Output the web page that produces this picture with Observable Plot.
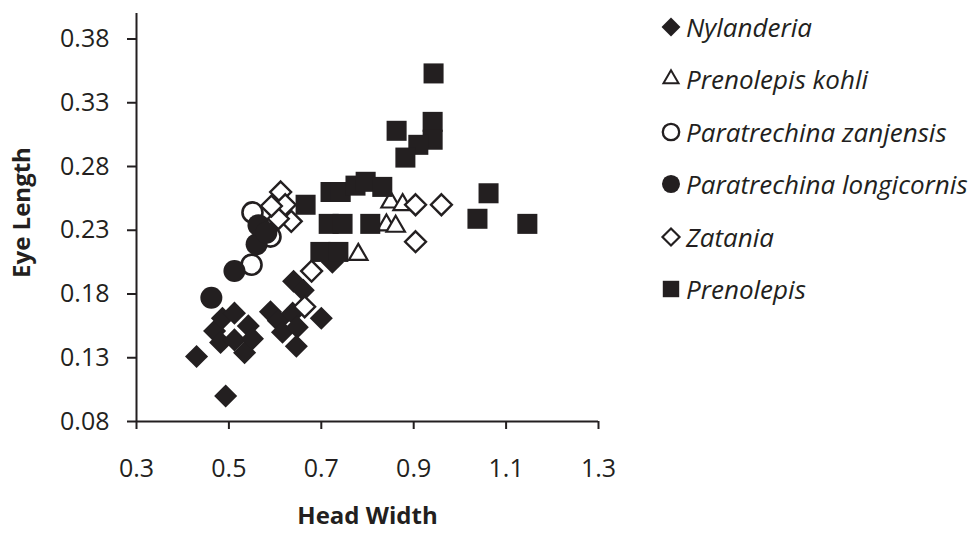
<!DOCTYPE html>
<html><head><meta charset="utf-8">
<script src="https://cdn.jsdelivr.net/npm/d3@7"></script>
<script src="https://cdn.jsdelivr.net/npm/@observablehq/plot@0.6"></script>
<style>
body{margin:0;background:#fff;}
#wrap{position:relative;width:973px;height:534px;overflow:hidden;}
#chart{position:absolute;left:0;top:0;}
#legend{position:absolute;left:0;top:0;font-family:"Open Sans", sans-serif;font-style:italic;font-size:26px;color:#231f20;}
.item{position:absolute;left:658px;height:36px;display:flex;align-items:center;white-space:nowrap;}
.item svg{display:block;margin-right:2px;}
</style></head><body><div id="wrap"><div id="chart"></div><div id="legend"></div></div>
<script>
const ink = "#231f20";
const seriesNames = ["Nylanderia", "Prenolepis kohli", "Paratrechina zanjensis", "Paratrechina longicornis", "Zatania", "Prenolepis"];
const xTicks = [0.3, 0.5, 0.7, 0.9, 1.1, 1.3];
const yTicks = [0.08, 0.13, 0.18, 0.23, 0.28, 0.33, 0.38];

const nylanderiaHW = [0.430,0.493,0.469,0.486,0.512,0.542,0.482,0.512,0.534,0.551,0.640,0.661,0.590,0.607,0.638,0.616,0.648,0.646,0.700,0.724];
const nylanderiaEL = [0.131,0.100,0.151,0.161,0.165,0.155,0.142,0.144,0.134,0.145,0.190,0.183,0.166,0.159,0.165,0.150,0.154,0.139,0.161,0.205];
const kohliHW = [0.780,0.850,0.876,0.841,0.861];
const kohliEL = [0.211,0.252,0.250,0.234,0.233];
const zanjensisHW = [0.551,0.549,0.590];
const zanjensisEL = [0.244,0.203,0.225];
const longicornisHW = [0.462,0.512,0.560,0.564,0.581];
const longicornisEL = [0.177,0.198,0.219,0.234,0.228];
const zataniaHW = [0.612,0.622,0.635,0.607,0.592,0.679,0.664,0.904,0.960,0.904];
const zataniaEL = [0.260,0.250,0.237,0.239,0.249,0.198,0.170,0.250,0.250,0.221];
const prenolepisHW = [0.943,0.863,0.941,0.941,0.910,0.882,0.666,0.720,0.742,0.774,0.796,0.832,0.716,0.746,0.806,1.038,1.062,1.146,0.698,0.737];
const prenolepisEL = [0.353,0.308,0.315,0.301,0.297,0.287,0.250,0.260,0.260,0.265,0.268,0.264,0.235,0.235,0.235,0.239,0.259,0.235,0.213,0.213];

const rows = (xs, ys) => xs.map((x, i) => ({x, y: ys[i]}));

const styles = [
  {symbol: "diamond2", r: 10.4, fill: ink, stroke: "none", strokeWidth: 0},
  {symbol: "triangle2", r: 8.8, fill: "white", stroke: ink, strokeWidth: 2.2},
  {symbol: "circle", r: 10, fill: "white", stroke: ink, strokeWidth: 2.6},
  {symbol: "circle", r: 11, fill: ink, stroke: "none", strokeWidth: 0},
  {symbol: "diamond2", r: 9.4, fill: "white", stroke: ink, strokeWidth: 2.4},
  {symbol: "square", r: 11.3, fill: ink, stroke: "none", strokeWidth: 0}
];
const data = [
  rows(nylanderiaHW, nylanderiaEL),
  rows(kohliHW, kohliEL),
  rows(zanjensisHW, zanjensisEL),
  rows(longicornisHW, longicornisEL),
  rows(zataniaHW, zataniaEL),
  rows(prenolepisHW, prenolepisEL)
];

const chart = Plot.plot({
  width: 620, height: 534,
  marginLeft: 136, marginRight: 22, marginTop: 13, marginBottom: 113,
  x: {domain: [0.3, 1.3]},
  y: {domain: [0.08, 0.40]},
  style: {fontFamily: "'Open Sans', sans-serif", fontSize: "25px", color: ink, background: "white"},
  marks: [
    Plot.ruleX([0.3], {stroke: ink, strokeWidth: 2}),
    Plot.ruleY([0.08], {stroke: ink, strokeWidth: 2}),
    Plot.axisX(xTicks, {tickSize: 8, tickPadding: 30, tickFormat: d => d.toFixed(1), label: null, strokeWidth: 2, stroke: ink, fill: ink}),
    Plot.axisY(yTicks, {tickSize: 9, tickPadding: 18, tickFormat: d => d.toFixed(2), label: null, strokeWidth: 2, stroke: ink, fill: ink}),
    ...data.map((d, i) => Plot.dot(d, {x: "x", y: "y", ...styles[i]})),
    Plot.text(["Head Width"], {frameAnchor: "bottom", dy: 102, fontWeight: "bold", fontSize: 24, fill: ink}),
    Plot.text(["Eye Length"], {frameAnchor: "left", textAnchor: "middle", dx: -114, dy: -5, rotate: -90, fontWeight: "bold", fontSize: 24, fill: ink})
  ]
});
document.getElementById("chart").appendChild(chart);

// legend
const symMap = {diamond2: d3.symbolDiamond2, triangle2: d3.symbolTriangle2, circle: d3.symbolCircle, square: d3.symbolSquare};
const legend = document.getElementById("legend");
seriesNames.forEach((name, i) => {
  const s = styles[i];
  const size = Math.PI * (s.r * 0.82) ** 2;
  const path = d3.symbol(symMap[s.symbol], size)();
  const div = document.createElement("div");
  div.className = "item";
  div.style.top = (27 + i * 52.4 - 18) + "px";
  div.innerHTML = `<svg width="26" height="26" viewBox="-13 -13 26 26"><path d="${path}" fill="${s.fill}" stroke="${s.stroke}" stroke-width="${s.strokeWidth * 0.9}"/></svg><span>${name}</span>`;
  legend.appendChild(div);
});
</script>
</body></html>
